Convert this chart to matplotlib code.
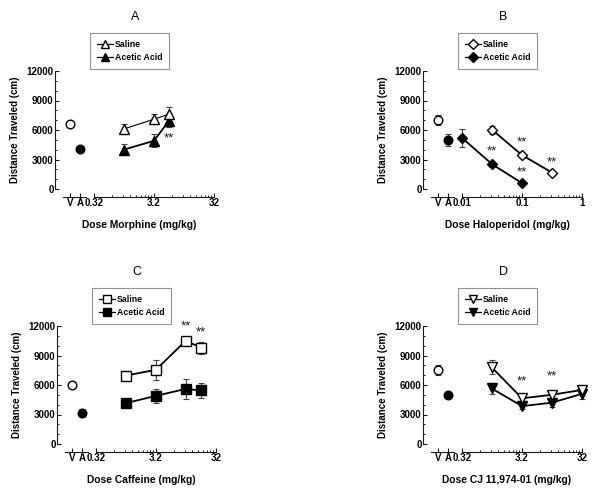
import matplotlib
matplotlib.use("Agg")
import matplotlib.pyplot as plt
import matplotlib.ticker as mticker
from matplotlib.lines import Line2D

plt.rcParams['font.family'] = ['Liberation Sans', 'DejaVu Sans']

# control groups: V = vehicle + saline, A = vehicle + acetic acid
control_labels = ["V", "A"]

# A: morphine
morphine_dose = [1.0, 3.2, 5.6]
morphine_saline = [6100, 7100, 7600]
morphine_saline_err = [500, 500, 700]
morphine_acid = [4000, 4900, 6900]
morphine_acid_err = [550, 650, 600]
morphine_ctrl = [6600, 4100]
morphine_ctrl_err = [0, 150]
morphine_stars = [(5.6, 5150)]

# B: haloperidol
haloperidol_saline_dose = [0.032, 0.1, 0.32]
haloperidol_saline = [6000, 3450, 1650]
haloperidol_saline_err = [450, 250, 200]
haloperidol_acid_dose = [0.01, 0.032, 0.1]
haloperidol_acid = [5200, 2500, 600]
haloperidol_acid_err = [900, 250, 150]
haloperidol_ctrl = [7050, 5000]
haloperidol_ctrl_err = [500, 600]
haloperidol_stars = [(0.1, 4700), (0.32, 2700), (0.032, 3800), (0.1, 1650)]

# C: caffeine
caffeine_dose = [1.0, 3.2, 10, 18]
caffeine_saline = [6950, 7550, 10500, 9800]
caffeine_saline_err = [300, 1000, 300, 600]
caffeine_acid = [4150, 4900, 5600, 5450]
caffeine_acid_err = [200, 700, 1000, 750]
caffeine_ctrl = [5950, 3150]
caffeine_ctrl_err = [0, 400]
caffeine_stars = [(10, 11950), (18, 11300)]

# D: CJ 11,974-01
cj_dose = [1.0, 3.2, 10, 32]
cj_saline = [7800, 4650, 5000, 5500]
cj_saline_err = [700, 300, 350, 400]
cj_acid = [5650, 3850, 4200, 5100]
cj_acid_err = [550, 250, 400, 550]
cj_ctrl = [7500, 5000]
cj_ctrl_err = [500, 0]
cj_stars = [(3.2, 6350), (10, 6850)]

W, H = 600, 493
fig = plt.figure(figsize=(W / 100, H / 100), dpi=100)

PX = 0.72  # points per pixel
INK = '#1a1a1a'
TICK_FS = 7.0


def px_axes(x, y, w, h):
    ax = fig.add_axes([x / W, 1 - (y + h) / H, w / W, h / H])
    ax.patch.set_visible(False)
    return ax


def draw_panel(x0, y0, letter, marker, ms, sal_dose, sal, sal_err, acid_dose, acid, acid_err,
               ctrl, ctrl_err, stars, majors, major_labels, xlabel, sal_lw=1.3):
    # control axes (V / A) that also carries the y axis
    ax_c = px_axes(x0 + 8, y0, 23, 118)
    ax_c.set_xlim(0.3, 2.6)
    ax_c.set_ylim(0, 12000)
    for s in ['top', 'right']:
        ax_c.spines[s].set_visible(False)
    ax_c.spines['left'].set_position(('outward', 8 * PX))
    ax_c.spines['bottom'].set_position(('outward', 8 * PX))
    ax_c.spines['left'].set_bounds(0, 12000)
    for s in ['left', 'bottom']:
        ax_c.spines[s].set_linewidth(0.8)
        ax_c.spines[s].set_color(INK)
    ax_c.yaxis.set_major_locator(mticker.MultipleLocator(3000))
    ax_c.yaxis.set_minor_locator(mticker.MultipleLocator(1000))
    ax_c.set_xticks([1, 2])
    ax_c.set_xticklabels(control_labels)
    ax_c.tick_params(which='major', direction='in', length=3, width=0.8, color=INK,
                     labelsize=TICK_FS, pad=1.0)
    ax_c.tick_params(which='minor', direction='in', length=1.6, width=0.7, color=INK)
    for lab in ax_c.get_xticklabels() + ax_c.get_yticklabels():
        lab.set_fontweight('bold')

    ax_c.errorbar([1, 2], ctrl, yerr=ctrl_err, fmt='none', ecolor='#444444',
                  elinewidth=0.8, capsize=2.5, capthick=0.8, clip_on=False)
    ax_c.plot([1], [ctrl[0]], 'o', ms=6.2, mfc='white', mec='black', mew=1.0,
              clip_on=False, zorder=4)
    ax_c.plot([2], [ctrl[1]], 'o', ms=6.2, mfc='black', mec='black', clip_on=False, zorder=4)

    # dose axes (log)
    ax_d = px_axes(x0 + 39, y0, 120, 118)
    ax_d.set_xscale('log')
    ax_d.set_xlim(majors[0], majors[-1])
    ax_d.set_ylim(0, 12000)
    for s in ['top', 'right', 'left']:
        ax_d.spines[s].set_visible(False)
    ax_d.spines['bottom'].set_position(('outward', 8 * PX))
    ax_d.spines['bottom'].set_linewidth(0.8)
    ax_d.spines['bottom'].set_color(INK)
    ax_d.set_yticks([])
    minors = [m * k for m in majors[:-1] for k in range(2, 10)]
    ax_d.xaxis.set_major_locator(mticker.FixedLocator(majors))
    ax_d.xaxis.set_major_formatter(mticker.FixedFormatter(major_labels))
    ax_d.xaxis.set_minor_locator(mticker.FixedLocator(minors))
    ax_d.xaxis.set_minor_formatter(mticker.NullFormatter())
    ax_d.tick_params(which='major', direction='in', length=3, width=0.8, color=INK,
                     labelsize=TICK_FS, pad=1.0)
    ax_d.tick_params(which='minor', direction='in', length=1.6, width=0.7, color=INK)
    for lab in ax_d.get_xticklabels():
        lab.set_fontweight('bold')

    ax_d.errorbar(sal_dose, sal, yerr=sal_err, fmt='none', ecolor='#444444',
                  elinewidth=0.8, capsize=2.5, capthick=0.8, clip_on=False)
    ax_d.errorbar(acid_dose, acid, yerr=acid_err, fmt='none', ecolor='#444444',
                  elinewidth=0.8, capsize=2.5, capthick=0.8, clip_on=False)
    ax_d.plot(acid_dose, acid, color='black', lw=1.3, marker=marker, ms=ms,
              mfc='black', mec='black', clip_on=False, zorder=3)
    ax_d.plot(sal_dose, sal, color='black', lw=sal_lw, marker=marker, ms=ms,
              mfc='white', mec='black', mew=1.0, clip_on=False, zorder=4)
    for d, y in stars:
        ax_d.text(d, y, '**', ha='center', va='center', fontsize=9.5, color=INK, clip_on=False)

    # legend
    handles = [
        Line2D([], [], color='black', lw=0.9, marker=marker, ms=ms * 0.85, mfc='white', mec='black'),
        Line2D([], [], color='black', lw=0.9, marker=marker, ms=ms * 0.85, mfc='black', mec='black'),
    ]
    bx, by, bw, bh = x0 + 35, y0 - 38, 79, 34
    leg = ax_d.legend(handles, ['Saline', 'Acetic Acid'], loc='upper left',
                      bbox_to_anchor=(bx / W, 1 - (by + bh) / H, bw / W, bh / H),
                      bbox_transform=fig.transFigure, mode='expand',
                      prop={'size': 6.3, 'weight': 'bold'}, frameon=True, fancybox=False,
                      borderpad=0.75, labelspacing=0.5, handlelength=1.9, handletextpad=0.2,
                      borderaxespad=0)
    leg.get_frame().set_edgecolor('#777777')
    leg.get_frame().set_linewidth(0.8)

    fig.text((x0 + 80) / W, 1 - (y0 - 54) / H, letter, ha='center', va='center', fontsize=9)
    fig.text((x0 + 84) / W, 1 - (y0 + 154) / H, xlabel, ha='center', va='center',
             fontsize=7.4, fontweight='bold')
    fig.text((x0 - 40) / W, 1 - (y0 + 59) / H, 'Distance Traveled (cm)', ha='center',
             va='center', rotation=90, fontsize=7.0, fontweight='bold')


draw_panel(55, 71, 'A', '^', 6.5, morphine_dose, morphine_saline, morphine_saline_err,
           morphine_dose, morphine_acid, morphine_acid_err, morphine_ctrl, morphine_ctrl_err,
           morphine_stars, [0.32, 3.2, 32], ['0.32', '3.2', '32'], 'Dose Morphine (mg/kg)',
           sal_lw=0.8)
draw_panel(423, 71, 'B', 'D', 5.5, haloperidol_saline_dose, haloperidol_saline,
           haloperidol_saline_err, haloperidol_acid_dose, haloperidol_acid, haloperidol_acid_err,
           haloperidol_ctrl, haloperidol_ctrl_err, haloperidol_stars, [0.01, 0.1, 1],
           ['0.01', '0.1', '1'], 'Dose Haloperidol (mg/kg)')
draw_panel(57, 326, 'C', 's', 6.5, caffeine_dose, caffeine_saline, caffeine_saline_err,
           caffeine_dose, caffeine_acid, caffeine_acid_err, caffeine_ctrl, caffeine_ctrl_err,
           caffeine_stars, [0.32, 3.2, 32], ['0.32', '3.2', '32'], 'Dose Caffeine (mg/kg)')
draw_panel(423, 326, 'D', 'v', 6.5, cj_dose, cj_saline, cj_saline_err,
           cj_dose, cj_acid, cj_acid_err, cj_ctrl, cj_ctrl_err,
           cj_stars, [0.32, 3.2, 32], ['0.32', '3.2', '32'], 'Dose CJ 11,974-01 (mg/kg)')

fig.savefig('out.png', dpi=100, facecolor='white')
